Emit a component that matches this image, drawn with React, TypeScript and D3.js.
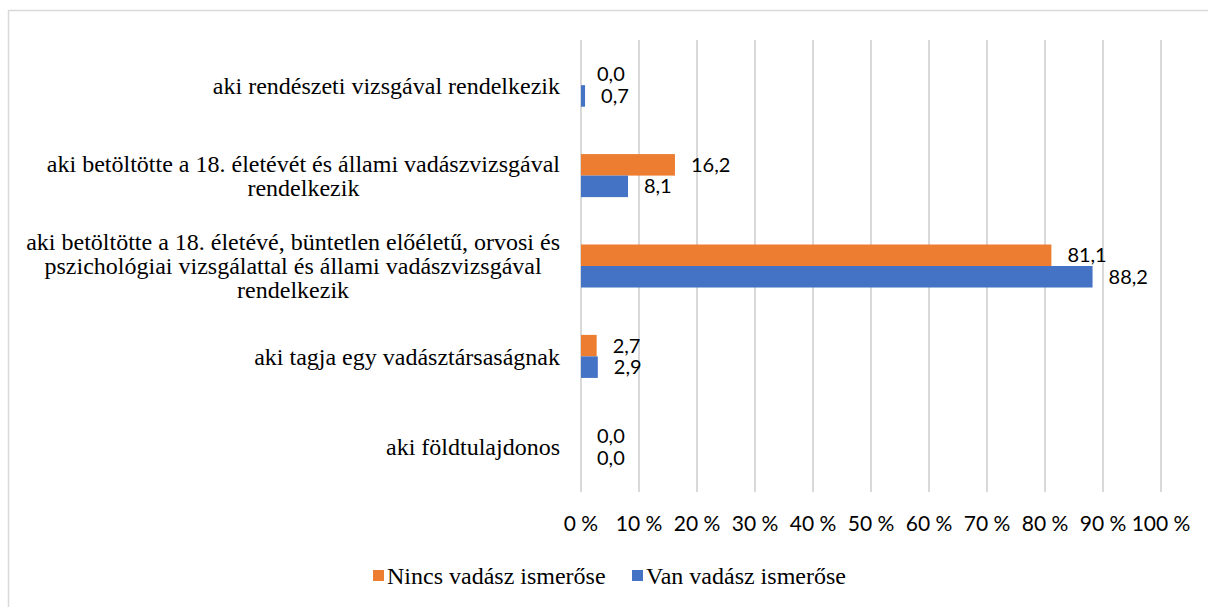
import React, { useEffect, useRef } from "react";
import * as d3 from "d3";

const categories: string[][] = [
  ["aki rendészeti vizsgával rendelkezik"],
  ["aki betöltötte a 18. életévét és állami vadászvizsgával", "rendelkezik"],
  [
    "aki betöltötte a 18. életévé, büntetlen előéletű, orvosi és",
    "pszichológiai vizsgálattal és állami vadászvizsgával",
    "rendelkezik",
  ],
  ["aki tagja egy vadásztársaságnak"],
  ["aki földtulajdonos"],
];
const seriesNames = ["Nincs vadász ismerőse", "Van vadász ismerőse"];
const nincsValues = [0.0, 16.2, 81.1, 2.7, 0.0];
const vanValues = [0.7, 8.1, 88.2, 2.9, 0.0];
const xTicks = [0, 10, 20, 30, 40, 50, 60, 70, 80, 90, 100];
const colors = ["#ED7D31", "#4472C4"];

const W = 1208;
const H = 607;
const serif = '"Liberation Serif", "Times New Roman", "DejaVu Serif", serif';
const sans = 'Lato, "Open Sans", sans-serif';

export default function App() {
  const ref = useRef<SVGSVGElement | null>(null);

  useEffect(() => {
    const svg = d3.select(ref.current);
    svg.selectAll("*").remove();

    svg
      .append("rect")
      .attr("x", 8.5)
      .attr("y", 10.5)
      .attr("width", W + 10)
      .attr("height", H + 10)
      .attr("fill", "white")
      .attr("stroke", "#d9d9d9")
      .attr("stroke-width", 1.5);

    const x = d3.scaleLinear().domain([0, 100]).range([581, 1161]);
    const idx = categories.map((_, i) => String(i));
    const y = d3
      .scaleBand<string>()
      .domain(idx)
      .range([40, 492])
      .paddingInner(0.524)
      .paddingOuter(0.262);
    const inner = d3
      .scaleBand<string>()
      .domain(seriesNames)
      .range([0, y.bandwidth()]);

    svg
      .append("g")
      .selectAll("line")
      .data(xTicks)
      .join("line")
      .attr("x1", (d) => x(d))
      .attr("x2", (d) => x(d))
      .attr("y1", 40)
      .attr("y2", 492)
      .attr("stroke", "#d9d9d9")
      .attr("stroke-width", 2);

    svg
      .append("g")
      .selectAll("text")
      .data(xTicks)
      .join("text")
      .attr("x", (d) => x(d))
      .attr("y", 524)
      .attr("dy", "0.35em")
      .attr("text-anchor", "middle")
      .style("font-family", sans)
      .style("font-size", "21px")
      .attr("fill", "#000")
      .text((d) => `${d} %`);

    const series = [nincsValues, vanValues];
    series.forEach((vals, si) => {
      const g = svg.append("g");
      g.selectAll("rect")
        .data(vals)
        .join("rect")
        .attr("x", x(0))
        .attr("y", (_, i) => (y(String(i)) as number) + (inner(seriesNames[si]) as number))
        .attr("width", (d) => x(d) - x(0))
        .attr("height", inner.bandwidth())
        .attr("fill", colors[si]);
      g.selectAll("text")
        .data(vals)
        .join("text")
        .attr("x", (d) => x(d) + 16)
        .attr(
          "y",
          (_, i) =>
            (y(String(i)) as number) + (inner(seriesNames[si]) as number) + inner.bandwidth() / 2
        )
        .attr("dy", "0.35em")
        .style("font-family", sans)
        .style("font-size", "20px")
        .attr("fill", "#000")
        .text((d) => d.toFixed(1).replace(".", ","));
    });

    const lh = 24;
    categories.forEach((lines, i) => {
      const cy = (y(String(i)) as number) + y.bandwidth() / 2;
      const g = svg.append("g");
      const texts = g
        .selectAll("text")
        .data(lines)
        .join("text")
        .attr("y", (_, k) => cy + (k - (lines.length - 1) / 2) * lh)
        .attr("dy", "0.35em")
        .attr("text-anchor", "middle")
        .style("font-family", serif)
        .style("font-size", "24px")
        .attr("fill", "#000")
        .text((d) => d);
      let maxW = 0;
      texts.each(function () {
        maxW = Math.max(maxW, (this as SVGTextElement).getComputedTextLength());
      });
      texts.attr("x", 560 - maxW / 2);
    });

    const legendX = [373, 632];
    seriesNames.forEach((name, si) => {
      svg
        .append("rect")
        .attr("x", legendX[si])
        .attr("y", 570)
        .attr("width", 11)
        .attr("height", 11)
        .attr("fill", colors[si]);
      svg
        .append("text")
        .attr("x", legendX[si] + 14)
        .attr("y", 576)
        .attr("dy", "0.35em")
        .style("font-family", serif)
        .style("font-size", "24px")
        .attr("fill", "#000")
        .text(name);
    });
  }, []);

  return (
    <svg
      ref={ref}
      width={W}
      height={H}
      style={{ position: "absolute", left: 0, top: 0, display: "block" }}
    />
  );
}
